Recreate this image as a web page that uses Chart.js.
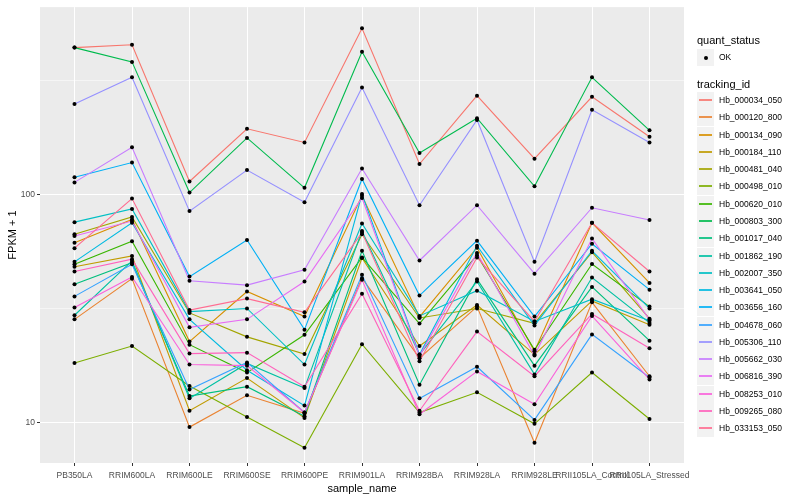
<!DOCTYPE html>
<html>
<head>
<meta charset="utf-8">
<script src="https://cdn.jsdelivr.net/npm/chart.js@4.4.1/dist/chart.umd.min.js"></script>
<style>
  body { margin: 0; background: #fff; font-family: "Liberation Sans", Arial, sans-serif; }
  #wrap { position: relative; width: 800px; height: 500px; }
  #legend { position: absolute; left: 697px; top: 0; width: 103px; height: 500px; }
  .ttl { position: absolute; left: 0; font-size: 11px; line-height: 13px; color: #000; white-space: nowrap; }
  .key { position: absolute; left: 0; width: 17px; height: 17px; background: #F2F2F2; }
  .key .ln { position: absolute; left: 2px; right: 2px; top: 7px; height: 2px; opacity: 0.85; }
  .key .dot { position: absolute; left: 6.5px; top: 6.5px; width: 4px; height: 4px; border-radius: 50%; background: #000; }
  .lbl { position: absolute; left: 22px; font-size: 8.5px; line-height: 10px; color: #000; white-space: nowrap; }
</style>
</head>
<body>
<div id="wrap">
  <canvas id="chart"></canvas>
  <div id="legend"></div>
</div>
<script>
// samples on the x axis
const categories = ["PB350LA", "RRIM600LA", "RRIM600LE", "RRIM600SE", "RRIM600PE", "RRIM901LA",
  "RRIM928BA", "RRIM928LA", "RRIM928LE", "RRII105LA_Control", "RRII105LA_Stressed"];

// FPKM + 1, one array per tracking_id
const hb_000034_050 = [440, 453, 114, 194, 169, 535, 136, 271, 143.5, 268, 179];
const hb_000120_800 = [28.4, 42.8, 9.58, 13.2, 11.0, 43, 19.2, 32.3, 8.18, 33.7, 16];
const hb_000134_090 = [61.5, 77.8, 22.7, 37.6, 29.2, 98.8, 29.1, 58.5, 20.6, 75.2, 41];
const hb_000184_110 = [48.3, 53.8, 11.3, 15.7, 10.5, 52.7, 21.7, 32.8, 19.9, 34.2, 26.9];
const hb_000481_040 = [67, 79.8, 30.3, 23.8, 20.0, 67, 28.8, 31.7, 27.3, 55.9, 28.6];
const hb_000498_010 = [18.3, 21.7, 14.5, 10.6, 7.78, 22.1, 11.1, 13.6, 9.9, 16.6, 10.4];
const hb_000620_010 = [49.5, 62.4, 22.0, 16.6, 24.3, 53, 27.2, 54.2, 20.9, 49.6, 32.3];
const hb_000803_300 = [440, 381, 102, 177, 107, 422, 152, 216, 108.6, 326, 191];
const hb_001017_040 = [40.5, 50.3, 13.1, 14.4, 10.7, 56.7, 14.7, 42.6, 17.8, 39.4, 22.9];
const hb_001862_190 = [29.6, 51.2, 12.8, 18.2, 14.2, 69.2, 19.9, 41.6, 16.3, 43.3, 27.4];
const hb_002007_350 = [75.7, 86.5, 30.7, 31.7, 18.0, 74.7, 29.4, 37.9, 27.8, 34.8, 28];
const hb_003641_050 = [50.7, 75.2, 28.4, 17.0, 11.9, 100.5, 19.9, 59.7, 26.7, 56.7, 31.7];
const hb_003656_160 = [119, 138, 43.7, 63.2, 25.6, 117, 36.1, 62.8, 29.2, 60.9, 38.3];
const hb_004678_060 = [35.8, 49.5, 14.0, 18.4, 11.1, 44.5, 12.8, 17.6, 10.3, 24.4, 15.8];
const hb_005306_110 = [249, 326, 84.6, 128, 92.5, 294, 89.8, 212, 50.7, 235, 169];
const hb_005662_030 = [113, 161, 41.9, 40.1, 46.8, 130, 51.4, 89.8, 45, 87.5, 77.3];
const hb_006816_390 = [65.8, 76.5, 26.2, 28.4, 41.6, 96.6, 19.6, 55.5, 19.7, 64.2, 28.3];
const hb_008253_010 = [32, 43.5, 18.0, 17.8, 11.1, 42.3, 10.9, 16.8, 12.06, 29.4, 15.5];
const hb_009265_080 = [46, 52.1, 20.1, 20.3, 14.4, 36.8, 11.3, 25.1, 16.0, 29.99, 21.2];
const hb_033153_050 = [58.2, 96, 31.2, 35, 30.5, 68.1, 18.6, 53, 27.8, 75.2, 46];

const trackingIds = ["Hb_000034_050", "Hb_000120_800", "Hb_000134_090", "Hb_000184_110", "Hb_000481_040",
  "Hb_000498_010", "Hb_000620_010", "Hb_000803_300", "Hb_001017_040", "Hb_001862_190", "Hb_002007_350",
  "Hb_003641_050", "Hb_003656_160", "Hb_004678_060", "Hb_005306_110", "Hb_005662_030", "Hb_006816_390",
  "Hb_008253_010", "Hb_009265_080", "Hb_033153_050"];
const seriesValues = [hb_000034_050, hb_000120_800, hb_000134_090, hb_000184_110, hb_000481_040,
  hb_000498_010, hb_000620_010, hb_000803_300, hb_001017_040, hb_001862_190, hb_002007_350,
  hb_003641_050, hb_003656_160, hb_004678_060, hb_005306_110, hb_005662_030, hb_006816_390,
  hb_008253_010, hb_009265_080, hb_033153_050];

// y ticks: labelled majors and unlabelled minor gridlines
const yMajorTicks = [10, 100];
const yMinorTicks = [31.62, 316.2];

// default ggplot hue palette for 20 levels
const colors = ["#F8766D", "#EA8331", "#D89000", "#C09B00", "#A3A500", "#7CAE00", "#39B600", "#00BB4E",
  "#00BF7D", "#00C1A3", "#00BFC4", "#00BAE0", "#00B0F6", "#35A2FF", "#9590FF", "#C77CFF", "#E76BF3",
  "#FA62DB", "#FF62BC", "#FF6C91"];

const isMajor = v => yMajorTicks.includes(v);

// grey panel behind everything
const panelBg = {
  id: "panelBg",
  beforeDraw(chart) {
    const a = chart.chartArea, ctx = chart.ctx;
    ctx.save();
    ctx.fillStyle = "#EBEBEB";
    ctx.fillRect(a.left, a.top, a.right - a.left, a.bottom - a.top);
    ctx.restore();
  }
};

// black points drawn after all lines, like geom_point on top of geom_line
const pointsOnTop = {
  id: "pointsOnTop",
  afterDatasetsDraw(chart) {
    const ctx = chart.ctx;
    ctx.save();
    ctx.fillStyle = "#000";
    chart.data.datasets.forEach((ds, i) => {
      chart.getDatasetMeta(i).data.forEach(pt => {
        ctx.beginPath();
        ctx.arc(pt.x, pt.y, 2, 0, Math.PI * 2);
        ctx.fill();
      });
    });
    ctx.restore();
  }
};

const datasets = trackingIds.map((id, i) => ({
  label: id,
  data: seriesValues[i].map((v, j) => ({ x: j, y: v })),
  borderColor: colors[i],
  backgroundColor: colors[i],
  borderWidth: 1.1,
  pointRadius: 0,
  fill: false,
  tension: 0,
  order: trackingIds.length - i
}));

const ctx = document.getElementById("chart").getContext("2d");
new Chart(ctx, {
  type: "line",
  data: { datasets },
  plugins: [panelBg, pointsOnTop],
  options: {
    responsive: true,
    maintainAspectRatio: false,
    animation: false,
    layout: { padding: { left: 0, right: 116, top: 5, bottom: 0 } },
    plugins: { legend: { display: false }, tooltip: { enabled: false } },
    scales: {
      x: {
        type: "linear",
        min: -0.6,
        max: categories.length - 1 + 0.6,
        afterBuildTicks: scale => { scale.ticks = categories.map((c, i) => ({ value: i })); },
        afterFit: scale => { scale.height = 37; },
        ticks: {
          autoSkip: false,
          maxRotation: 0,
          minRotation: 0,
          padding: 5,
          color: "#4D4D4D",
          font: { family: "Liberation Sans", size: 8.5 },
          callback: v => categories[v]
        },
        grid: { color: "#FFFFFF", lineWidth: 1, tickLength: 3, tickColor: "#333333" },
        border: { display: false },
        title: {
          display: true,
          text: "sample_name",
          color: "#000",
          font: { family: "Liberation Sans", size: 11 },
          padding: { top: 0, bottom: 4 }
        }
      },
      y: {
        type: "logarithmic",
        min: 6.67,
        max: 662,
        afterBuildTicks: scale => {
          scale.ticks = yMajorTicks.concat(yMinorTicks).map(v => ({ value: v }));
        },
        afterFit: scale => { scale.width = 40; },
        ticks: {
          padding: 2,
          color: "#4D4D4D",
          font: { family: "Liberation Sans", size: 8.5 },
          callback: v => isMajor(v) ? String(v) : ""
        },
        grid: {
          color: "#FFFFFF",
          lineWidth: c => isMajor(c.tick.value) ? 1 : 0.5,
          tickLength: 3,
          tickColor: c => isMajor(c.tick.value) ? "#333333" : "rgba(0,0,0,0)"
        },
        border: { display: false },
        title: {
          display: true,
          text: "FPKM + 1",
          color: "#000",
          font: { family: "Liberation Sans", size: 11 },
          padding: { top: 6, bottom: 0 }
        }
      }
    }
  }
});

// legend in ggplot style on the right
const legend = document.getElementById("legend");
let html = '<div class="ttl" style="top:34px">quant_status</div>';
html += '<div class="key" style="top:49px"><div class="dot"></div></div>';
html += '<div class="lbl" style="top:52px">OK</div>';
html += '<div class="ttl" style="top:78px">tracking_id</div>';
trackingIds.forEach((id, i) => {
  const cy = Math.round(100 + i * 17.28);
  html += '<div class="key" style="top:' + (cy - 8) + 'px"><div class="ln" style="background:' + colors[i] + '"></div></div>';
  html += '<div class="lbl" style="top:' + (cy - 5) + 'px">' + id + '</div>';
});
legend.innerHTML = html;
</script>
</body>
</html>
